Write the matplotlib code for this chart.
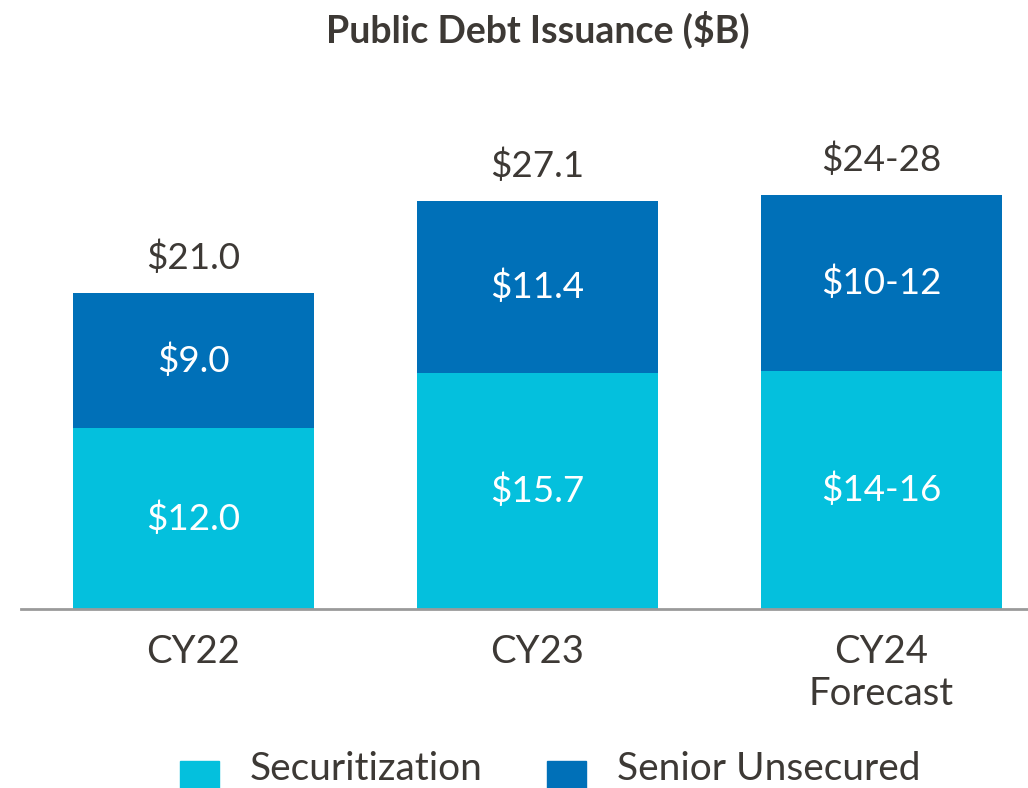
import matplotlib
matplotlib.use("Agg")
import matplotlib.pyplot as plt
from matplotlib.patches import Rectangle

categories = ["CY22", "CY23", "CY24\nForecast"]
securitization = [12.0, 15.7, 15.8]
senior_unsecured = [9.0, 11.4, 11.7]
sec_labels = ["$12.0", "$15.7", "$14-16"]
sen_labels = ["$9.0", "$11.4", "$10-12"]
total_labels = ["$21.0", "$27.1", "$24-28"]
series_names = ["Securitization", "Senior Unsecured"]

CYAN = "#04C0DD"
BLUE = "#0070B8"
TEXT = "#3D3935"

plt.rcParams["font.family"] = ["Lato", "DejaVu Sans"]

fig = plt.figure(figsize=(10.28, 7.88), dpi=100)
ax = fig.add_axes([0.0, (788 - 609) / 788, 1.0, 527 / 788])

x = list(range(len(categories)))
w = 0.698
ax.bar(x, securitization, width=w, color=CYAN)
ax.bar(x, senior_unsecured, width=w, bottom=securitization, color=BLUE)

for i in x:
    s = securitization[i]
    u = senior_unsecured[i]
    ax.text(i, s / 2, sec_labels[i], ha="center", va="center", color="white", fontsize=26.5)
    ax.text(i, s + u / 2, sen_labels[i], ha="center", va="center", color="white", fontsize=26.5)
    ax.text(i, s + u + 1.2, total_labels[i], ha="center", va="bottom", color=TEXT, fontsize=26.5)

ax.set_xlim(-0.5625, 2.4259)
ax.set_ylim(0, 35)
for sp in ["top", "right", "left"]:
    ax.spines[sp].set_visible(False)
ax.spines["bottom"].set_color("#9A9A9A")
ax.spines["bottom"].set_linewidth(2)
ax.spines["bottom"].set_bounds(-0.5625 + 21 / 344, 2.4259)
ax.set_yticks([])
ax.set_xticks(x)
ax.set_xticklabels(categories, fontsize=27.5, color=TEXT, linespacing=1.2)
ax.tick_params(axis="x", length=0, pad=18)

fig.text(538 / 1028, 1 - 30 / 788, "Public Debt Issuance ($B)", ha="center", va="center",
         fontsize=27, fontweight="bold", color=TEXT)

# legend
for (x0, name, col) in [(180, series_names[0], CYAN), (547, series_names[1], BLUE)]:
    fig.patches.append(Rectangle((x0 / 1028, 0), 39 / 1028, (788 - 761) / 788,
                                 transform=fig.transFigure, color=col))
    fig.text((x0 + 70) / 1028, 1 - 769 / 788, name, ha="left", va="center",
             fontsize=28, color=TEXT)

fig.savefig("out.png", dpi=100)
